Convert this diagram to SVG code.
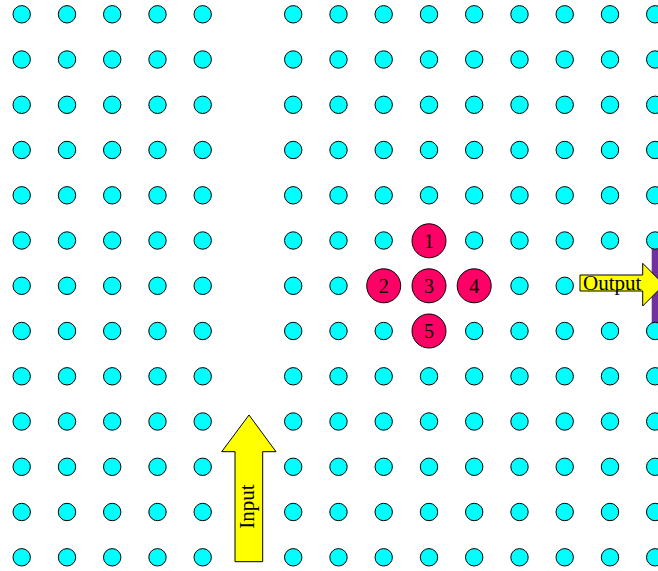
<svg xmlns="http://www.w3.org/2000/svg" xmlns:xlink="http://www.w3.org/1999/xlink" width="658" height="571" viewBox="0 0 658 571">
<style>
.dot{fill:#00FFFF;stroke:#000;stroke-width:1}
.red{fill:#FF0066;stroke:#000;stroke-width:1}
.arrow{fill:#FFFF00;stroke:#000;stroke-width:1}
.lbl{font-family:"Liberation Serif","Times New Roman",serif;font-size:21px;fill:#000}
.num{font-family:"Liberation Serif","Times New Roman",serif;font-size:20px;fill:#000;text-anchor:middle}
</style>
<defs>
<circle id="d" class="dot" cx="0" cy="0" r="8.7"/>
</defs>
<rect id="output-bar" x="651.7" y="248" width="10" height="75" fill="#7030A0"/>
<g id="lattice">
<g id="row0"><use href="#d" x="21.7" y="14.3"/><use href="#d" x="67" y="14.3"/><use href="#d" x="112.2" y="14.3"/><use href="#d" x="157.5" y="14.3"/><use href="#d" x="202.7" y="14.3"/><use href="#d" x="293.2" y="14.3"/><use href="#d" x="338.5" y="14.3"/><use href="#d" x="383.7" y="14.3"/><use href="#d" x="429" y="14.3"/><use href="#d" x="474.2" y="14.3"/><use href="#d" x="519.5" y="14.3"/><use href="#d" x="564.7" y="14.3"/><use href="#d" x="610" y="14.3"/><use href="#d" x="655.2" y="14.3"/></g>
<g id="row1"><use href="#d" x="21.7" y="59.5"/><use href="#d" x="67" y="59.5"/><use href="#d" x="112.2" y="59.5"/><use href="#d" x="157.5" y="59.5"/><use href="#d" x="202.7" y="59.5"/><use href="#d" x="293.2" y="59.5"/><use href="#d" x="338.5" y="59.5"/><use href="#d" x="383.7" y="59.5"/><use href="#d" x="429" y="59.5"/><use href="#d" x="474.2" y="59.5"/><use href="#d" x="519.5" y="59.5"/><use href="#d" x="564.7" y="59.5"/><use href="#d" x="610" y="59.5"/><use href="#d" x="655.2" y="59.5"/></g>
<g id="row2"><use href="#d" x="21.7" y="104.8"/><use href="#d" x="67" y="104.8"/><use href="#d" x="112.2" y="104.8"/><use href="#d" x="157.5" y="104.8"/><use href="#d" x="202.7" y="104.8"/><use href="#d" x="293.2" y="104.8"/><use href="#d" x="338.5" y="104.8"/><use href="#d" x="383.7" y="104.8"/><use href="#d" x="429" y="104.8"/><use href="#d" x="474.2" y="104.8"/><use href="#d" x="519.5" y="104.8"/><use href="#d" x="564.7" y="104.8"/><use href="#d" x="610" y="104.8"/><use href="#d" x="655.2" y="104.8"/></g>
<g id="row3"><use href="#d" x="21.7" y="150"/><use href="#d" x="67" y="150"/><use href="#d" x="112.2" y="150"/><use href="#d" x="157.5" y="150"/><use href="#d" x="202.7" y="150"/><use href="#d" x="293.2" y="150"/><use href="#d" x="338.5" y="150"/><use href="#d" x="383.7" y="150"/><use href="#d" x="429" y="150"/><use href="#d" x="474.2" y="150"/><use href="#d" x="519.5" y="150"/><use href="#d" x="564.7" y="150"/><use href="#d" x="610" y="150"/><use href="#d" x="655.2" y="150"/></g>
<g id="row4"><use href="#d" x="21.7" y="195.3"/><use href="#d" x="67" y="195.3"/><use href="#d" x="112.2" y="195.3"/><use href="#d" x="157.5" y="195.3"/><use href="#d" x="202.7" y="195.3"/><use href="#d" x="293.2" y="195.3"/><use href="#d" x="338.5" y="195.3"/><use href="#d" x="383.7" y="195.3"/><use href="#d" x="429" y="195.3"/><use href="#d" x="474.2" y="195.3"/><use href="#d" x="519.5" y="195.3"/><use href="#d" x="564.7" y="195.3"/><use href="#d" x="610" y="195.3"/><use href="#d" x="655.2" y="195.3"/></g>
<g id="row5"><use href="#d" x="21.7" y="240.5"/><use href="#d" x="67" y="240.5"/><use href="#d" x="112.2" y="240.5"/><use href="#d" x="157.5" y="240.5"/><use href="#d" x="202.7" y="240.5"/><use href="#d" x="293.2" y="240.5"/><use href="#d" x="338.5" y="240.5"/><use href="#d" x="383.7" y="240.5"/><use href="#d" x="474.2" y="240.5"/><use href="#d" x="519.5" y="240.5"/><use href="#d" x="564.7" y="240.5"/><use href="#d" x="610" y="240.5"/><use href="#d" x="655.2" y="240.5"/></g>
<g id="row6"><use href="#d" x="21.7" y="285.8"/><use href="#d" x="67" y="285.8"/><use href="#d" x="112.2" y="285.8"/><use href="#d" x="157.5" y="285.8"/><use href="#d" x="202.7" y="285.8"/><use href="#d" x="293.2" y="285.8"/><use href="#d" x="338.5" y="285.8"/><use href="#d" x="519.5" y="285.8"/><use href="#d" x="564.7" y="285.8"/></g>
<g id="row7"><use href="#d" x="21.7" y="331"/><use href="#d" x="67" y="331"/><use href="#d" x="112.2" y="331"/><use href="#d" x="157.5" y="331"/><use href="#d" x="202.7" y="331"/><use href="#d" x="293.2" y="331"/><use href="#d" x="338.5" y="331"/><use href="#d" x="383.7" y="331"/><use href="#d" x="474.2" y="331"/><use href="#d" x="519.5" y="331"/><use href="#d" x="564.7" y="331"/><use href="#d" x="610" y="331"/><use href="#d" x="655.2" y="331"/></g>
<g id="row8"><use href="#d" x="21.7" y="376.3"/><use href="#d" x="67" y="376.3"/><use href="#d" x="112.2" y="376.3"/><use href="#d" x="157.5" y="376.3"/><use href="#d" x="202.7" y="376.3"/><use href="#d" x="293.2" y="376.3"/><use href="#d" x="338.5" y="376.3"/><use href="#d" x="383.7" y="376.3"/><use href="#d" x="429" y="376.3"/><use href="#d" x="474.2" y="376.3"/><use href="#d" x="519.5" y="376.3"/><use href="#d" x="564.7" y="376.3"/><use href="#d" x="610" y="376.3"/><use href="#d" x="655.2" y="376.3"/></g>
<g id="row9"><use href="#d" x="21.7" y="421.5"/><use href="#d" x="67" y="421.5"/><use href="#d" x="112.2" y="421.5"/><use href="#d" x="157.5" y="421.5"/><use href="#d" x="202.7" y="421.5"/><use href="#d" x="293.2" y="421.5"/><use href="#d" x="338.5" y="421.5"/><use href="#d" x="383.7" y="421.5"/><use href="#d" x="429" y="421.5"/><use href="#d" x="474.2" y="421.5"/><use href="#d" x="519.5" y="421.5"/><use href="#d" x="564.7" y="421.5"/><use href="#d" x="610" y="421.5"/><use href="#d" x="655.2" y="421.5"/></g>
<g id="row10"><use href="#d" x="21.7" y="466.8"/><use href="#d" x="67" y="466.8"/><use href="#d" x="112.2" y="466.8"/><use href="#d" x="157.5" y="466.8"/><use href="#d" x="202.7" y="466.8"/><use href="#d" x="293.2" y="466.8"/><use href="#d" x="338.5" y="466.8"/><use href="#d" x="383.7" y="466.8"/><use href="#d" x="429" y="466.8"/><use href="#d" x="474.2" y="466.8"/><use href="#d" x="519.5" y="466.8"/><use href="#d" x="564.7" y="466.8"/><use href="#d" x="610" y="466.8"/><use href="#d" x="655.2" y="466.8"/></g>
<g id="row11"><use href="#d" x="21.7" y="512"/><use href="#d" x="67" y="512"/><use href="#d" x="112.2" y="512"/><use href="#d" x="157.5" y="512"/><use href="#d" x="202.7" y="512"/><use href="#d" x="293.2" y="512"/><use href="#d" x="338.5" y="512"/><use href="#d" x="383.7" y="512"/><use href="#d" x="429" y="512"/><use href="#d" x="474.2" y="512"/><use href="#d" x="519.5" y="512"/><use href="#d" x="564.7" y="512"/><use href="#d" x="610" y="512"/><use href="#d" x="655.2" y="512"/></g>
<g id="row12"><use href="#d" x="21.7" y="557.3"/><use href="#d" x="67" y="557.3"/><use href="#d" x="112.2" y="557.3"/><use href="#d" x="157.5" y="557.3"/><use href="#d" x="202.7" y="557.3"/><use href="#d" x="293.2" y="557.3"/><use href="#d" x="338.5" y="557.3"/><use href="#d" x="383.7" y="557.3"/><use href="#d" x="429" y="557.3"/><use href="#d" x="474.2" y="557.3"/><use href="#d" x="519.5" y="557.3"/><use href="#d" x="564.7" y="557.3"/><use href="#d" x="610" y="557.3"/><use href="#d" x="655.2" y="557.3"/></g>
</g>
<g id="cell1"><circle class="red" cx="429" cy="240.8" r="17"/><text class="num" x="429" y="247.5">1</text></g>
<g id="cell2"><circle class="red" cx="383.7" cy="285.8" r="17"/><text class="num" x="383.7" y="292.5">2</text></g>
<g id="cell3"><circle class="red" cx="429" cy="285.8" r="17"/><text class="num" x="429" y="292.5">3</text></g>
<g id="cell4"><circle class="red" cx="474.2" cy="285.8" r="17"/><text class="num" x="474.2" y="292.5">4</text></g>
<g id="cell5"><circle class="red" cx="429" cy="331" r="17"/><text class="num" x="429" y="337.7">5</text></g>
<g id="output">
<polygon class="arrow" points="580,275 642.7,275 642.7,263.3 664,284.7 642.7,306 642.7,291 580,291"/>
<text class="lbl" x="583" y="290">Output</text>
</g>
<g id="input">
<polygon class="arrow" points="235,561.7 262.7,561.7 262.7,451.7 276,451.7 249,415 221.7,451.7 235,451.7"/>
<text class="lbl" text-anchor="middle" transform="translate(254,506.5) rotate(-90)">Input</text>
</g>
</svg>
